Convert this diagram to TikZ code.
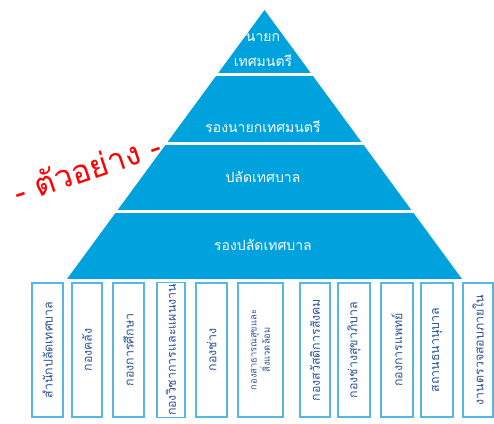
\documentclass[tikz,border=0pt]{standalone}
\usepackage{fontspec}
\setmainfont{Loma}[Script=Thai]
\usepackage{tikz}
\definecolor{pyrblue}{RGB}{0,162,222}
\definecolor{boxline}{RGB}{86,182,228}
\definecolor{boxtext}{RGB}{47,84,150}

\begin{document}
\begin{tikzpicture}[x=.75pt,y=-.75pt,
  lvl/.style={text=white,font=\fontsize{10.5}{12}\selectfont},
  unit/.style={draw=boxline,line width=1.1pt,rotate=90,text=boxtext,
    minimum width=100.5pt,inner sep=1pt,align=center,font=\fontsize{9.3}{10}\selectfont}]
\useasboundingbox (0,0) rectangle (494,424);
% pyramid
\fill[pyrblue] (264.5,10) -- (67,279) -- (462,279) -- cycle;
\draw[white,line width=2.2pt] (150,74.5) -- (380,74.5);
\draw[white,line width=2.2pt] (100,143.5) -- (430,143.5);
\draw[white,line width=2.2pt] (60,211.5) -- (470,211.5);
\node[lvl] (mayor1) at (263,38) {นายก};
\node[lvl] (mayor2) at (263,61) {เทศมนตรี};
\node[lvl] (deputy) at (263,127) {รองนายกเทศมนตรี};
\node[lvl] (clerk) at (263,177) {ปลัดเทศบาล};
\node[lvl] (deputyclerk) at (263,245) {รองปลัดเทศบาล};
\node[text=red,rotate=18.5,font=\fontsize{24}{28}\selectfont] (sample) at (87,168) {- ตัวอย่าง -};
% divisions
\node[unit,minimum height=23.25pt] (u1) at (47.5,350) {สำนักปลัดเทศบาล};
\node[unit,minimum height=22.5pt] (u2) at (87,350) {กองคลัง};
\node[unit,minimum height=23.25pt] (u3) at (128.5,350) {กองการศึกษา};
\node[unit,minimum height=21pt] (u4) at (171,350) {กองวิชาการและแผนงาน};
\node[unit,minimum height=23.25pt] (u5) at (211.5,350) {กองช่าง};
\node[unit,minimum height=33.75pt,font=\fontsize{7}{8.5}\selectfont] (u6) at (260.5,350) {กองสาธารณสุขและ\\สิ่งแวดล้อม};
\node[unit,minimum height=22.5pt] (u7) at (315,350) {กองสวัสดิการสังคม};
\node[unit,minimum height=24pt] (u8) at (354,350) {กองช่างสุขาภิบาล};
\node[unit,minimum height=24pt] (u9) at (397,350) {กองการแพทย์};
\node[unit,minimum height=24pt] (u10) at (437,350) {สถานธนานุบาล};
\node[unit,minimum height=22.5pt] (u11) at (478,350) {งานตรวจสอบภายใน};
\end{tikzpicture}
\end{document}
